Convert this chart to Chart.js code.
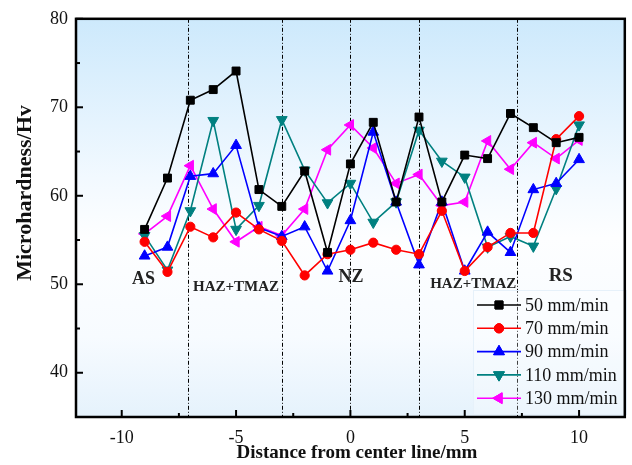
<!DOCTYPE html>
<html>
<head>
<meta charset="utf-8">
<script src="https://cdn.jsdelivr.net/npm/chart.js@4/dist/chart.umd.min.js"></script>
<style>
  html, body { margin: 0; padding: 0; background: #fff; }
  canvas { display: block; }
</style>
</head>
<body>
<canvas id="hvChart" width="632" height="465"></canvas>
<script>
// 용접부 미세경도 분포 (이송속도별)
const distances = [-9, -8, -7, -6, -5, -4, -3, -2, -1, 0, 1, 2, 3, 4, 5, 6, 7, 8, 9, 10];
const hv50  = [56.2, 62.0, 70.8, 72.0, 74.1, 60.7, 58.8, 62.8, 53.6, 63.6, 68.3, 59.3, 68.9, 59.3, 64.6, 64.2, 69.3, 67.7, 66.0, 66.6];
const hv70  = [54.8, 51.4, 56.5, 55.3, 58.1, 56.2, 54.9, 51.0, 53.4, 53.9, 54.7, 53.9, 53.4, 58.3, 51.5, 54.2, 55.8, 55.8, 66.4, 69.0];
const hv90  = [53.2, 54.2, 62.2, 62.5, 65.7, 56.4, 55.4, 56.5, 51.5, 57.2, 67.2, 59.3, 52.2, 59.3, 51.5, 55.9, 53.6, 60.7, 61.4, 64.1];
const hv110 = [55.5, 51.6, 58.3, 68.5, 56.2, 58.9, 68.6, 62.9, 59.2, 61.4, 57.0, 59.3, 67.4, 63.9, 62.1, 54.2, 55.4, 54.3, 60.8, 68.0];
const hv130 = [55.7, 57.7, 63.4, 58.5, 54.8, 56.5, 55.5, 58.5, 65.2, 68.0, 65.4, 61.4, 62.4, 58.9, 59.3, 66.2, 63.0, 66.0, 64.2, 66.3];
const seriesNames = ["50 mm/min", "70 mm/min", "90 mm/min", "110 mm/min", "130 mm/min"];

const xTicks = [-10, -5, 0, 5, 10];
const xMinorTicks = [-7.5, -2.5, 2.5, 7.5];
const yTicks = [40, 50, 60, 70, 80];
const yMinorTicks = [45, 55, 65, 75];

// 영역 경계(점쇄선)와 영역 이름
const zoneBounds = [-7.1, -3, 0, 3, 7.3];
const zoneNames = ["AS", "HAZ+TMAZ", "NZ", "HAZ+TMAZ", "RS"];
const zoneNameX = [-9.05, -5.0, 0.03, 5.37, 9.2];
const zoneNameY = [50.6, 49.7, 50.8, 50.0, 50.9];

const SERIF = '"Liberation Serif", "Times New Roman", serif';

const styles = [
  { color: "#000000", point: "rect", radius: 5.6, rotation: 0 },
  { color: "#ff0000", point: "circle", radius: 4.6, rotation: 0 },
  { color: "#0000ff", point: "triangle", radius: 6.2, rotation: 0 },
  { color: "#008080", point: "triangle", radius: 6.2, rotation: 180 },
  { color: "#ff00ff", point: "triangle", radius: 6.2, rotation: 270 },
];

const seriesValues = [hv50, hv70, hv90, hv110, hv130];

const datasets = seriesValues.map((vals, i) => ({
  label: seriesNames[i],
  data: distances.map((d, j) => ({ x: d, y: vals[j] })),
  borderColor: styles[i].color,
  backgroundColor: styles[i].color,
  borderWidth: 1.6,
  pointStyle: styles[i].point,
  pointRadius: styles[i].radius,
  pointRotation: styles[i].rotation,
  pointBorderWidth: 1,
  tension: 0,
  showLine: true,
}));

function drawMarker(ctx, st, x, y) {
  if (Chart.helpers && Chart.helpers.drawPoint) {
    Chart.helpers.drawPoint(ctx, {
      pointStyle: st.point, radius: st.radius, rotation: st.rotation, borderWidth: 1,
    }, x, y);
    ctx.fill();
    ctx.stroke();
  }
}

const decorPlugin = {
  id: "decor",
  beforeDatasetsDraw(chart) {
    const { ctx, chartArea: a, scales } = chart;
    ctx.save();
    const g = ctx.createLinearGradient(0, a.top, 0, a.bottom);
    g.addColorStop(0, "#cde9fc");
    g.addColorStop(0.4, "#f2f9ff");
    g.addColorStop(0.55, "#fdfeff");
    g.addColorStop(0.8, "#f7fbff");
    g.addColorStop(1, "#e5f2fc");
    ctx.fillStyle = g;
    ctx.fillRect(a.left, a.top, a.right - a.left, a.bottom - a.top);

    // 점쇄선
    ctx.strokeStyle = "#000";
    ctx.lineWidth = 1;
    ctx.setLineDash([4, 2, 1, 2]);
    zoneBounds.forEach((v) => {
      const px = Math.round(scales.x.getPixelForValue(v)) + 0.5;
      ctx.beginPath();
      ctx.moveTo(px, a.top);
      ctx.lineTo(px, a.bottom);
      ctx.stroke();
    });
    ctx.restore();
  },
  afterDatasetsDraw(chart) {
    const { ctx, chartArea: a, scales } = chart;
    const sx = scales.x, sy = scales.y;
    ctx.save();

    // 영역 이름
    ctx.fillStyle = "#222";
    ctx.textAlign = "center";
    ctx.textBaseline = "middle";
    const sizes = [18, 15, 18, 15, 19];
    zoneNames.forEach((t, i) => {
      ctx.font = `bold ${sizes[i]}px ${SERIF}`;
      ctx.fillText(t, sx.getPixelForValue(zoneNameX[i]), sy.getPixelForValue(zoneNameY[i]));
    });

    // 범례
    const lx = 473, ly = 290, lw = 154, lh = 125;
    ctx.fillStyle = "rgba(255,255,255,0.25)";
    ctx.fillRect(lx, ly, lw, lh);
    ctx.strokeStyle = "#e6f1fa";
    ctx.lineWidth = 1;
    ctx.strokeRect(lx + 0.5, ly + 0.5, lw - 1, lh - 1);
    styles.forEach((st, i) => {
      const y = ly + 15 + i * 23.3;
      ctx.strokeStyle = st.color;
      ctx.fillStyle = st.color;
      ctx.lineWidth = 1.6;
      ctx.beginPath();
      ctx.moveTo(477, y);
      ctx.lineTo(521, y);
      ctx.stroke();
      ctx.lineWidth = 1;
      drawMarker(ctx, st, 499, y);
      ctx.fillStyle = "#111";
      ctx.font = `18px ${SERIF}`;
      ctx.textAlign = "left";
      ctx.textBaseline = "middle";
      ctx.fillText(seriesNames[i], 525, y + 1);
    });

    // 프레임 + 안쪽 눈금
    ctx.strokeStyle = "#000";
    ctx.lineWidth = 2.5;
    ctx.strokeRect(a.left, a.top, a.right - a.left, a.bottom - a.top);
    ctx.lineWidth = 2;
    xTicks.forEach((v) => {
      const px = sx.getPixelForValue(v);
      ctx.beginPath(); ctx.moveTo(px, a.bottom); ctx.lineTo(px, a.bottom - 7); ctx.stroke();
    });
    xMinorTicks.forEach((v) => {
      const px = sx.getPixelForValue(v);
      ctx.beginPath(); ctx.moveTo(px, a.bottom); ctx.lineTo(px, a.bottom - 4); ctx.stroke();
    });
    yTicks.forEach((v) => {
      const py = sy.getPixelForValue(v);
      ctx.beginPath(); ctx.moveTo(a.left, py); ctx.lineTo(a.left + 7, py); ctx.stroke();
    });
    yMinorTicks.forEach((v) => {
      const py = sy.getPixelForValue(v);
      ctx.beginPath(); ctx.moveTo(a.left, py); ctx.lineTo(a.left + 4, py); ctx.stroke();
    });

    // 축 제목
    ctx.fillStyle = "#111";
    ctx.font = `bold 19px ${SERIF}`;
    ctx.textAlign = "center";
    ctx.textBaseline = "middle";
    ctx.fillText("Distance from center line/mm", 357, 453);
    ctx.font = `bold 22px ${SERIF}`;
    ctx.translate(25, 193);
    ctx.rotate(-Math.PI / 2);
    ctx.fillText("Microhardness/Hv", 0, 0);
    ctx.restore();
  },
};

new Chart(document.getElementById("hvChart").getContext("2d"), {
  type: "scatter",
  data: { datasets },
  options: {
    responsive: false,
    animation: false,
    layout: { padding: { top: 18, right: 5, left: 0, bottom: 0 } },
    plugins: { legend: { display: false }, tooltip: { enabled: false } },
    scales: {
      x: {
        type: "linear",
        min: -12,
        max: 12,
        grid: { display: false, drawTicks: false },
        border: { display: false },
        afterBuildTicks: (s) => { s.ticks = xTicks.map((v) => ({ value: v })); },
        afterFit: (s) => { s.height = 48; },
        ticks: { color: "#111", padding: 10, font: { family: SERIF, size: 18 } },
      },
      y: {
        type: "linear",
        min: 35,
        max: 80,
        grid: { display: false, drawTicks: false },
        border: { display: false },
        afterBuildTicks: (s) => { s.ticks = yTicks.map((v) => ({ value: v })); },
        afterFit: (s) => { s.width = 76; },
        ticks: { color: "#111", padding: 8, font: { family: SERIF, size: 18 } },
      },
    },
  },
  plugins: [decorPlugin],
});
</script>
</body>
</html>
